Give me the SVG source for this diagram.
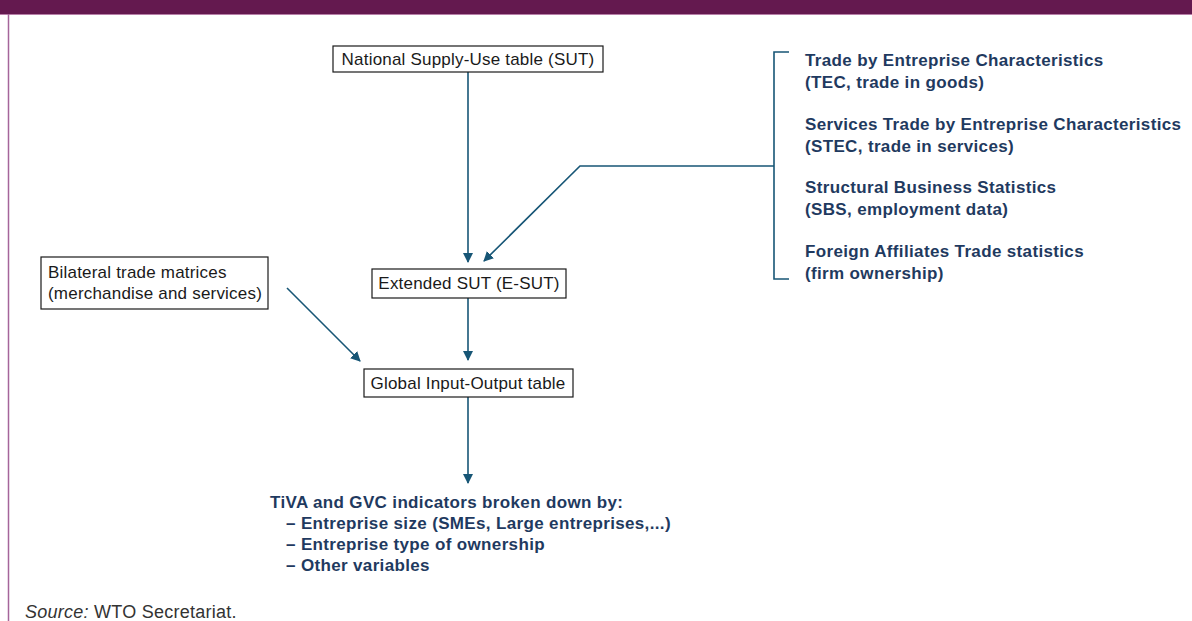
<svg xmlns="http://www.w3.org/2000/svg" width="1192" height="621" viewBox="0 0 1192 621">
<style>
.box{fill:#fff;stroke:#1a1a1a;stroke-width:1.2}
.bt{font-family:"Liberation Sans",Arial,sans-serif;font-size:17px;letter-spacing:0.2px;fill:#1a1a1a}
.bold{font-family:"Liberation Sans",Arial,sans-serif;font-size:17px;letter-spacing:0.35px;font-weight:bold;fill:#1f3a60}
.con{stroke:#175676;stroke-width:1.6;fill:none}
</style>
<defs>
<marker id="arr" markerWidth="10" markerHeight="10" refX="9" refY="5" orient="auto" markerUnits="userSpaceOnUse">
<path d="M0,0 L10,5 L0,10 z" fill="#175676"/>
</marker>
</defs>
<rect x="0" y="0" width="1192" height="14" fill="#64194f"/>
<line x1="0" y1="14.5" x2="1192" y2="14.5" stroke="#b77fa8" stroke-width="1"/>
<line x1="8.5" y1="14" x2="8.5" y2="621" stroke="#a5659a" stroke-width="1.5"/>

<g id="connectors">
<line class="con" x1="468" y1="72" x2="468" y2="262" marker-end="url(#arr)"/>
<polyline class="con" points="774,166 580,166 484,261" marker-end="url(#arr)"/>
<polyline class="con" points="789,52 774,52 774,279 789,279"/>
<line class="con" x1="468" y1="298" x2="468" y2="360" marker-end="url(#arr)"/>
<line class="con" x1="287" y1="288" x2="360" y2="361" marker-end="url(#arr)"/>
<line class="con" x1="468" y1="397" x2="468" y2="483" marker-end="url(#arr)"/>
</g>

<g id="n-sut">
<rect class="box" x="333" y="46" width="270" height="26"/>
<text class="bt" x="468" y="65" text-anchor="middle">National Supply-Use table (SUT)</text>
</g>
<g id="n-esut">
<rect class="box" x="372" y="269" width="194" height="29"/>
<text class="bt" x="469" y="289" text-anchor="middle">Extended SUT (E-SUT)</text>
</g>
<g id="n-gio">
<rect class="box" x="364" y="369" width="209" height="28"/>
<text class="bt" x="468" y="389" text-anchor="middle">Global Input-Output table</text>
</g>
<g id="n-bilateral">
<rect class="box" x="41" y="257" width="227" height="52"/>
<text class="bt" x="48" y="278">Bilateral trade matrices</text>
<text class="bt" x="48" y="299">(merchandise and services)</text>
</g>
<g id="n-sources">
<text class="bold" x="805" y="66">Trade by Entreprise Characteristics</text>
<text class="bold" x="805" y="88">(TEC, trade in goods)</text>
<text class="bold" x="805" y="130">Services Trade by Entreprise Characteristics</text>
<text class="bold" x="805" y="152">(STEC, trade in services)</text>
<text class="bold" x="805" y="193">Structural Business Statistics</text>
<text class="bold" x="805" y="215">(SBS, employment data)</text>
<text class="bold" x="805" y="257">Foreign Affiliates Trade statistics</text>
<text class="bold" x="805" y="279">(firm ownership)</text>
</g>
<g id="n-tiva">
<text class="bold" x="270" y="508">TiVA and GVC indicators broken down by:</text>
<text class="bold" x="286" y="529">– Entreprise size (SMEs, Large entreprises,...)</text>
<text class="bold" x="286" y="550">– Entreprise type of ownership</text>
<text class="bold" x="286" y="571">– Other variables</text>
</g>
<text x="25" y="618" font-family="'Liberation Sans',Arial,sans-serif" font-size="18" letter-spacing="0.25" fill="#333"><tspan font-style="italic">Source:</tspan> WTO Secretariat.</text>
</svg>
